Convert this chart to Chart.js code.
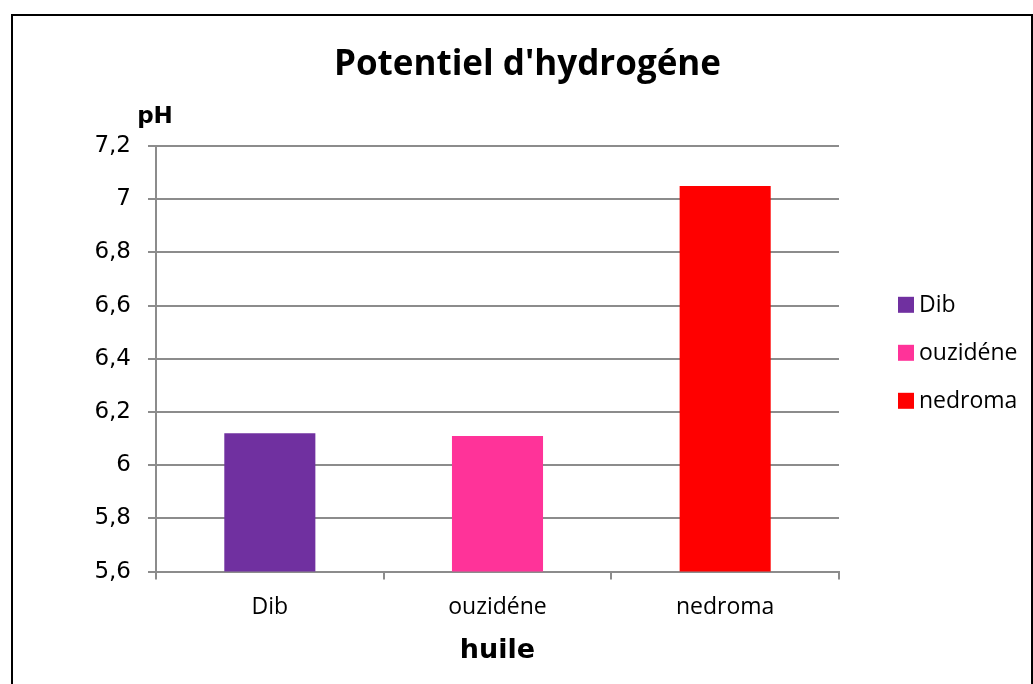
<!DOCTYPE html>
<html>
<head>
<meta charset="utf-8">
<style>
  html, body { margin: 0; padding: 0; background: #fff; }
  #wrap { position: relative; width: 1033px; height: 684px; overflow: hidden; }
  #frame { position: absolute; left: 11px; top: 14px; width: 1018px; height: 700px;
           border: 2px solid #000; pointer-events: none; }
  canvas { position: absolute; left: 0; top: 0; }
</style>
</head>
<body>
<div id="wrap">
  <canvas id="phChart" width="1033" height="684"></canvas>
  <div id="frame"></div>
</div>

<script src="https://cdn.jsdelivr.net/npm/chart.js/dist/chart.umd.min.js"></script>
<script>
  // data
  const huiles = ['Dib', 'ouzidéne', 'nedroma'];
  const phValues = [6.12, 6.11, 7.05];
  const barColors = ['#7030A0', '#FF3399', '#FF0000'];
  const yTicks = [5.6, 5.8, 6, 6.2, 6.4, 6.6, 6.8, 7, 7.2];

  const gridColor = '#8C8C8C';

  // "pH" label above the value axis + legend on the right, drawn by hand
  const extras = {
    id: 'extras',
    afterDraw(chart) {
      const { ctx, chartArea } = chart;
      ctx.save();
      ctx.fillStyle = '#000';
      ctx.textAlign = 'center';
      ctx.textBaseline = 'middle';
      ctx.font = 'bold 23px "DejaVu Sans"';
      ctx.fillText('pH', chartArea.left - 1, chartArea.top - 29);

      // legend
      const midY = (chartArea.top + chartArea.bottom) / 2 - 6;
      const step = 48;
      const boxX = chartArea.right + 59;
      ctx.font = '23px "Open Sans"';
      ctx.textAlign = 'left';
      huiles.forEach((h, i) => {
        const cy = midY + (i - 1) * step;
        ctx.fillStyle = barColors[i];
        ctx.fillRect(boxX, cy - 8, 16, 16);
        ctx.fillStyle = '#000';
        ctx.fillText(h, boxX + 21, cy + 1);
      });
      ctx.restore();
    }
  };

  new Chart(document.getElementById('phChart'), {
    type: 'bar',
    data: {
      labels: huiles,
      datasets: [{
        data: phValues,
        backgroundColor: barColors,
        borderWidth: 0,
        barPercentage: 0.4,
        categoryPercentage: 1
      }]
    },
    options: {
      responsive: false,
      animation: false,
      layout: { padding: { left: 22, right: 0, top: 0, bottom: 17 } },
      plugins: {
        title: {
          display: true,
          text: "Potentiel d'hydrogéne",
          color: '#000',
          font: { family: '"Open Sans"', size: 35, weight: 'bold' },
          padding: { top: 44, bottom: 60 }
        },
        legend: { display: false },
        tooltip: { enabled: false }
      },
      scales: {
        x: {
          grid: {
            offset: true,
            drawOnChartArea: false,
            drawTicks: true,
            tickLength: 8,
            color: gridColor,
            lineWidth: 2
          },
          border: { color: gridColor, width: 2 },
          ticks: {
            color: '#000',
            font: { family: '"Open Sans"', size: 23, lineHeight: 1 },
            padding: 16
          },
          title: {
            display: true,
            text: 'huile',
            color: '#000',
            font: { family: '"DejaVu Sans"', size: 27, weight: 'bold' },
            padding: { top: 0, bottom: 0 }
          }
        },
        y: {
          min: 5.6,
          max: 7.2,
          afterFit(scale) { scale.width = 134; },
          afterBuildTicks(scale) {
            scale.ticks = yTicks.map(v => ({ value: v }));
          },
          grid: {
            color: gridColor,
            lineWidth: 2,
            tickLength: 8
          },
          border: { color: gridColor, width: 2 },
          ticks: {
            color: '#000',
            font: { family: '"DejaVu Sans"', size: 23 },
            padding: 17,
            callback: v => String(Math.round(v * 10) / 10).replace('.', ',')
          }
        },
        // empty axis on the right, only reserves room for the legend
        legendSpace: {
          type: 'linear',
          position: 'right',
          display: true,
          afterFit(scale) { scale.width = 194; },
          grid: { display: false, drawTicks: false },
          border: { display: false },
          ticks: { display: false }
        }
      }
    },
    plugins: [extras]
  });
</script>
</body>
</html>
